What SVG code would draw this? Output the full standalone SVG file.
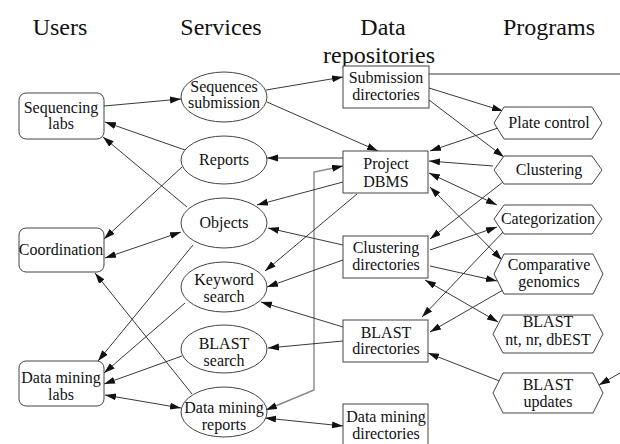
<svg xmlns="http://www.w3.org/2000/svg" width="620" height="444" viewBox="0 0 620 444" font-family="'Liberation Serif', Tinos, 'Times New Roman', 'DejaVu Serif', serif">
<defs>
<marker id="a" markerUnits="userSpaceOnUse" markerWidth="12" markerHeight="8" refX="11" refY="3.5" orient="auto-start-reverse">
<path d="M0,0 L11,3.5 L0,7 z" fill="#111"/>
</marker>
</defs>
<style>
text{font-family:'Liberation Serif',Tinos,'Times New Roman','DejaVu Serif',serif;fill:#111;text-anchor:middle}
.h{font-size:24px}
.t{font-size:16px}
.n{fill:#fff;stroke:#444;stroke-width:1}
.c line,.c polyline{stroke:#222;stroke-width:0.9;fill:none}
.e{marker-end:url(#a)}
.b{marker-start:url(#a);marker-end:url(#a)}
</style>
<rect width="620" height="444" fill="#fff"/>
<g id="headers">
<text class="h" x="60" y="35">Users</text>
<text class="h" x="221" y="35">Services</text>
<text class="h" x="383" y="35">Data</text>
<text class="h" x="379" y="63">repositories</text>
<text class="h" x="549" y="35">Programs</text>
</g>
<g class="c" id="connectors">
<line class="e" x1="104" y1="106" x2="181" y2="99"/>
<line class="e" x1="185" y1="150" x2="105" y2="122"/>
<line class="e" x1="187" y1="207" x2="103" y2="137"/>
<line class="e" x1="182" y1="167" x2="104" y2="239"/>
<line class="b" x1="105" y1="258" x2="181" y2="232"/>
<line class="e" x1="192" y1="394" x2="95" y2="273"/>
<line class="e" x1="193" y1="245" x2="98" y2="361"/>
<line class="e" x1="185" y1="303" x2="104" y2="373"/>
<line class="e" x1="182" y1="356" x2="104" y2="384"/>
<line class="b" x1="105" y1="395" x2="181" y2="408"/>
<line class="e" x1="266" y1="90" x2="343" y2="77"/>
<line class="e" x1="267" y1="102" x2="378" y2="151"/>
<line class="e" x1="343" y1="158" x2="267" y2="158"/>
<polyline class="b" points="266,410 314,390 314,172 343,166" style="stroke:#888;stroke-width:1.4"/>
<line class="e" x1="343" y1="182" x2="257" y2="205"/>
<line class="e" x1="357" y1="194" x2="265" y2="271"/>
<line class="e" x1="343" y1="245" x2="268" y2="228"/>
<line class="e" x1="343" y1="260" x2="267" y2="287"/>
<line class="e" x1="343" y1="327" x2="261" y2="302"/>
<line class="e" x1="343" y1="341" x2="268" y2="348"/>
<line class="b" x1="265" y1="418" x2="343" y2="426"/>
<line x1="429" y1="74" x2="620" y2="74"/>
<line class="e" x1="429" y1="88" x2="503" y2="111"/>
<line class="e" x1="429" y1="100" x2="504" y2="157"/>
<line class="e" x1="498" y1="128" x2="430" y2="151"/>
<line class="e" x1="493" y1="166" x2="429" y2="161"/>
<line class="b" x1="429" y1="173" x2="497" y2="205"/>
<line class="b" x1="430" y1="187" x2="502" y2="260"/>
<line class="e" x1="503" y1="182" x2="430" y2="239"/>
<line class="e" x1="430" y1="250" x2="497" y2="227"/>
<line class="e" x1="505" y1="230" x2="422" y2="317"/>
<line class="e" x1="430" y1="266" x2="497" y2="281"/>
<line class="e" x1="503" y1="290" x2="430" y2="332"/>
<line class="b" x1="425" y1="280" x2="498" y2="322"/>
<line class="e" x1="502" y1="382" x2="428" y2="353"/>
<line class="e" x1="620" y1="373" x2="599" y2="385"/>
</g>
<g id="sequencing-labs"><rect class="n" x="19" y="93" width="85" height="46" rx="7"/><text class="t" x="61" y="113">Sequencing</text><text class="t" x="61" y="129">labs</text></g>
<g id="coordination"><rect class="n" x="19" y="228" width="85" height="44" rx="7"/><text class="t" x="61" y="255">Coordination</text></g>
<g id="data-mining-labs"><rect class="n" x="19" y="361" width="85" height="45" rx="7"/><text class="t" x="61" y="383">Data mining</text><text class="t" x="61" y="400">labs</text></g>
<g id="sequences-submission"><ellipse class="n" cx="224" cy="97" rx="43" ry="25"/><text class="t" x="224" y="92">Sequences</text><text class="t" x="224" y="108">submission</text></g>
<g id="reports"><ellipse class="n" cx="224" cy="160" rx="43" ry="24"/><text class="t" x="224" y="165">Reports</text></g>
<g id="objects"><ellipse class="n" cx="224" cy="223" rx="43" ry="25"/><text class="t" x="224" y="228">Objects</text></g>
<g id="keyword-search"><ellipse class="n" cx="224" cy="287" rx="43" ry="25"/><text class="t" x="224" y="285">Keyword</text><text class="t" x="224" y="302">search</text></g>
<g id="blast-search"><ellipse class="n" cx="224" cy="349" rx="43" ry="24"/><text class="t" x="224" y="349">BLAST</text><text class="t" x="224" y="366">search</text></g>
<g id="data-mining-reports"><ellipse class="n" cx="224" cy="412" rx="43" ry="25"/><text class="t" x="224" y="413">Data mining</text><text class="t" x="224" y="430">reports</text></g>
<g id="submission-directories"><rect class="n" x="343" y="66" width="86" height="42"/><text class="t" x="386" y="83">Submission</text><text class="t" x="386" y="100">directories</text></g>
<g id="project-dbms"><rect class="n" x="343" y="151" width="85" height="42"/><text class="t" x="386" y="169">Project</text><text class="t" x="386" y="187">DBMS</text></g>
<g id="clustering-directories"><rect class="n" x="343" y="236" width="85" height="42"/><text class="t" x="386" y="253">Clustering</text><text class="t" x="386" y="270">directories</text></g>
<g id="blast-directories"><rect class="n" x="343" y="320" width="85" height="42"/><text class="t" x="386" y="338">BLAST</text><text class="t" x="386" y="354">directories</text></g>
<g id="data-mining-directories"><rect class="n" x="343" y="404" width="85" height="44"/><text class="t" x="386" y="422">Data mining</text><text class="t" x="386" y="439">directories</text></g>
<g id="plate-control"><polygon class="n" points="494,123 504,107 592,107 602,123 592,139 504,139"/><text class="t" x="549" y="128">Plate control</text></g>
<g id="clustering"><polygon class="n" points="494,170 504,156 592,156 602,170 592,184 504,184"/><text class="t" x="549" y="175">Clustering</text></g>
<g id="categorization"><polygon class="n" points="494,219 504,205 592,205 602,219 592,234 504,234"/><text class="t" x="548" y="224">Categorization</text></g>
<g id="comparative-genomics"><polygon class="n" points="494,274 504,254 593,254 603,274 593,294 504,294"/><text class="t" x="549" y="270">Comparative</text><text class="t" x="549" y="287">genomics</text></g>
<g id="blast-nt"><polygon class="n" points="493,334 503,315 593,315 603,334 593,353 503,353"/><text class="t" x="548" y="327">BLAST</text><text class="t" x="548" y="345">nt, nr, dbEST</text></g>
<g id="blast-updates"><polygon class="n" points="493,393 503,373 593,373 603,393 593,413 503,413"/><text class="t" x="548" y="390">BLAST</text><text class="t" x="548" y="407">updates</text></g>
</svg>
